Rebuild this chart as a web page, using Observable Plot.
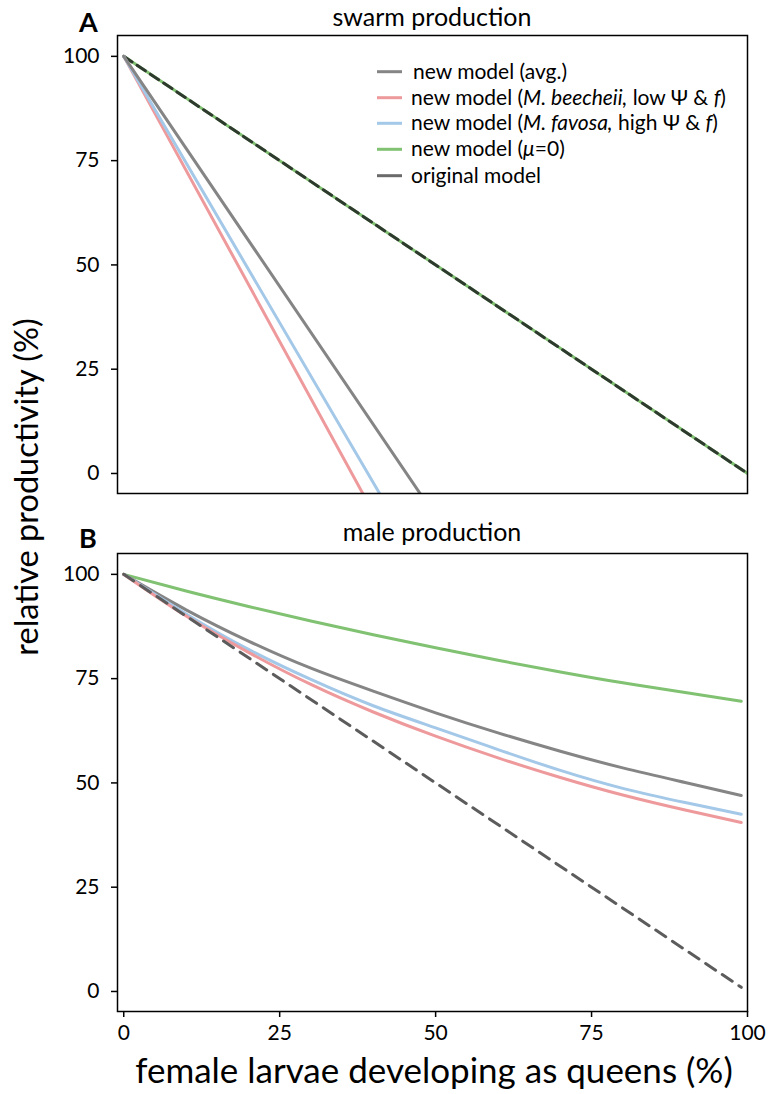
<!DOCTYPE html>
<html>
<head>
<meta charset="utf-8">
<script src="https://cdn.jsdelivr.net/npm/d3@7"></script>
<script src="https://cdn.jsdelivr.net/npm/@observablehq/plot@0.6"></script>
<style>
  html, body { margin: 0; padding: 0; background: #fff; }
  #wrap { position: relative; width: 768px; height: 1094px; font-family: Lato, "Open Sans", sans-serif; }
  #a, #b, #overlay { position: absolute; left: 0; }
  #a { top: 0; }
  #b { top: 500px; }
  #overlay { top: 0; pointer-events: none; }
</style>
</head>
<body>
<div id="wrap">
  <div id="a"></div>
  <div id="b"></div>
  <svg id="overlay" width="768" height="1094"></svg>
</div>
<script>
// ---- data ----
const yTicks = [0, 25, 50, 75, 100];
const xTicks = [0, 25, 50, 75, 100];

// Panel A: swarm production (straight lines; end points read where they leave the frame)
const swarmAvg      = [[0, 100], [47.6, -5]];
const swarmBeecheii = [[0, 100], [38.4, -5]];
const swarmFavosa   = [[0, 100], [41.1, -5]];
const swarmMu0      = [[0, 100], [100, 0]];
const swarmOriginal = [[0, 100], [100, 0]];

// Panel B: male production
const maleX        = [0, 10, 20, 30, 40, 50, 60, 70, 80, 90, 99];
const maleAvg      = [100, 91.5, 84.0, 77.5, 72.0, 66.8, 62.0, 57.6, 53.6, 50.1, 47.0];
const maleFavosa   = [100, 90.5, 82.0, 74.8, 68.5, 63.2, 58.0, 53.0, 48.7, 45.3, 42.5];
const maleBeecheii = [100, 90.0, 81.3, 73.6, 67.0, 61.2, 56.0, 51.3, 47.1, 43.5, 40.5];
const maleMu0      = [100, 96.0, 92.3, 88.8, 85.5, 82.4, 79.4, 76.6, 74.0, 71.7, 69.6];
const maleOriginalX = [0, 99];
const maleOriginal  = [100, 1];

const colors = { avg: "#858585", beecheii: "#ee9a9c", favosa: "#a4c8e8", mu0: "#80c272", original: "#6a6a6a" };

const legendItems = [
  { color: colors.avg, parts: [["new model (avg.)", false]] },
  { color: colors.beecheii, parts: [["new model (", false], ["M. beecheii,", true], [" low Ψ & ", false], ["f", true], [")", false]] },
  { color: colors.favosa, parts: [["new model (", false], ["M. favosa,", true], [" high Ψ & ", false], ["f", true], [")", false]] },
  { color: colors.mu0, parts: [["new model (", false], ["μ", true], ["=0)", false]] },
  { color: colors.original, parts: [["original model", false]] }
];

const toPts = (xs, ys) => xs.map((x, i) => ({ x, y: ys[i] }));
const pairPts = arr => arr.map(([x, y]) => ({ x, y }));

const common = {
  width: 768,
  marginLeft: 117,
  marginRight: 21,
  style: { fontFamily: "Lato, 'Open Sans', sans-serif", fontSize: "21px", color: "black", background: "transparent" }
};

const yAxis = () => Plot.axisY({ ticks: yTicks, tickSize: 6, tickPadding: 12, strokeWidth: 1.5, label: null, fontSize: 21 });
const frame = () => Plot.frame({ stroke: "black", strokeWidth: 1.5 });

const plotA = Plot.plot({
  ...common,
  height: 500,
  marginTop: 35,
  marginBottom: 7,
  x: { domain: [-1, 100], axis: null },
  y: { domain: [-4.8, 105] },
  marks: [
    Plot.line(pairPts(swarmMu0), { x: "x", y: "y", stroke: colors.mu0, strokeWidth: 3, clip: true }),
    Plot.line(pairPts(swarmOriginal), { x: "x", y: "y", stroke: "#2e3a2e", strokeWidth: 3, strokeDasharray: "10,6", clip: true }),
    Plot.line(pairPts(swarmBeecheii), { x: "x", y: "y", stroke: colors.beecheii, strokeWidth: 3, clip: true }),
    Plot.line(pairPts(swarmFavosa), { x: "x", y: "y", stroke: colors.favosa, strokeWidth: 3, clip: true }),
    Plot.line(pairPts(swarmAvg), { x: "x", y: "y", stroke: colors.avg, strokeWidth: 3, clip: true }),
    yAxis(),
    frame()
  ]
});
document.getElementById("a").appendChild(plotA);

const plotB = Plot.plot({
  ...common,
  height: 594,
  marginTop: 53,
  marginBottom: 83,
  x: { domain: [-1, 100] },
  y: { domain: [-4.8, 105] },
  marks: [
    Plot.line(toPts(maleX, maleMu0), { x: "x", y: "y", stroke: colors.mu0, strokeWidth: 3, curve: "natural" }),
    Plot.line(toPts(maleX, maleAvg), { x: "x", y: "y", stroke: colors.avg, strokeWidth: 3, curve: "natural" }),
    Plot.line(toPts(maleX, maleFavosa), { x: "x", y: "y", stroke: colors.favosa, strokeWidth: 3, curve: "natural" }),
    Plot.line(toPts(maleX, maleBeecheii), { x: "x", y: "y", stroke: colors.beecheii, strokeWidth: 3, curve: "natural" }),
    Plot.line(toPts(maleOriginalX, maleOriginal), { x: "x", y: "y", stroke: "#5c5c5c", strokeWidth: 3, strokeDasharray: "12,8" }),
    yAxis(),
    Plot.axisX({ ticks: xTicks, tickSize: 6, tickPadding: 8, strokeWidth: 1.5, label: null, fontSize: 21 }),
    frame()
  ]
});
document.getElementById("b").appendChild(plotB);

// ---- overlay text ----
const ov = d3.select("#overlay");
const font = "Lato, 'Open Sans', sans-serif";
function txt(x, y, s, opts = {}) {
  return ov.append("text").attr("x", x).attr("y", y).text(s)
    .attr("font-family", font).attr("font-size", opts.size || 18)
    .attr("font-weight", opts.weight || "normal")
    .attr("text-anchor", opts.anchor || "start").attr("fill", "black");
}
txt(79, 32, "A", { size: 27, weight: "bold" });
txt(79, 548, "B", { size: 27, weight: "bold" });
txt(432, 26, "swarm production", { size: 25, anchor: "middle" });
txt(432, 541, "male production", { size: 25, anchor: "middle" });
txt(434, 1083, "female larvae developing as queens (%)", { size: 35, anchor: "middle" });
ov.append("text").attr("transform", "translate(38,487) rotate(-90)").attr("text-anchor", "middle")
  .attr("font-family", font).attr("font-size", 32.5).attr("fill", "black").text("relative productivity (%)");

// legend
const rowY = [71.7, 97.7, 123.3, 149.3, 175.7];
legendItems.forEach((item, i) => {
  const y = rowY[i];
  ov.append("line").attr("x1", 377).attr("x2", 402).attr("y1", y).attr("y2", y)
    .attr("stroke", item.color).attr("stroke-width", 3);
  const t = ov.append("text").attr("x", i === 0 ? 413 : 411).attr("y", y + 7)
    .attr("font-family", font).attr("font-size", 21).attr("fill", "black");
  item.parts.forEach(([s, it]) => t.append("tspan").attr("font-style", it ? "italic" : "normal").text(s));
});
</script>
</body>
</html>
